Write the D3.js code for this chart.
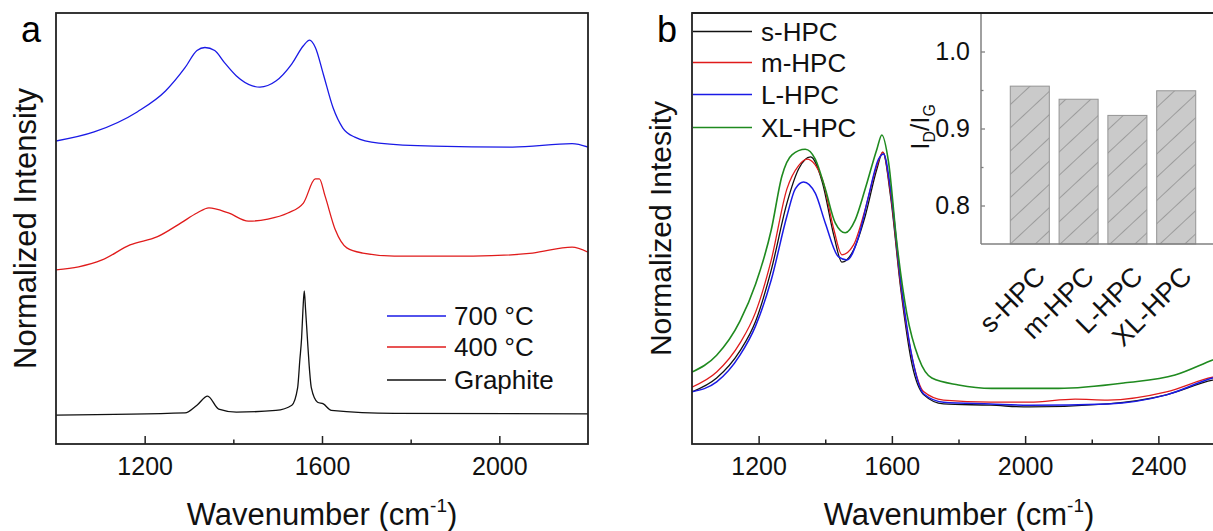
<!DOCTYPE html>
<html>
<head>
<meta charset="utf-8">
<script src="https://cdn.jsdelivr.net/npm/d3@7"></script>
<style>
  html, body { margin: 0; padding: 0; background: #fff; }
  svg { display: block; }
</style>
</head>
<body>
<svg id="chart" width="1213" height="531"></svg>
<script>
// ---------- DATA ----------
// Panel a: Raman spectra [wavenumber, normalized intensity (offset)]
const spec700 = [[1000,70.3],[1086,72.4],[1184,77.1],[1247,81.9],[1291,87.3],[1318,91.3],[1336,92.0],[1358,91.3],[1380,88.5],[1407,85.4],[1443,83.1],[1460,82.8],[1496,84.2],[1532,88.2],[1558,92.4],[1572,93.7],[1585,92.0],[1603,85.8],[1625,78.0],[1647,73.3],[1674,71.2],[1728,69.8],[1852,69.1],[2030,68.9],[2164,69.7],[2200,68.9]];
const spec400 = [[1000,40.4],[1051,41.1],[1104,42.7],[1167,46.2],[1229,48.1],[1282,51.3],[1318,53.6],[1345,54.8],[1389,53.6],[1434,51.7],[1478,52.2],[1523,53.6],[1558,55.9],[1585,61.5],[1594,61.5],[1607,57.5],[1630,49.7],[1656,45.5],[1692,44.3],[1763,43.6],[1941,43.6],[2075,44.3],[2164,45.7],[2200,44.5]];
const specGraphite = [[1000,6.7],[1291,7.2],[1318,9.0],[1342,11.1],[1367,8.1],[1407,7.4],[1496,7.8],[1532,9.0],[1545,13.0],[1550,19.5],[1554,24.6],[1557,31.1],[1560,35.5],[1563,31.1],[1567,24.6],[1571,18.3],[1576,13.0],[1590,9.7],[1603,9.3],[1621,7.8],[1763,7.1],[2200,7.0]];
const seriesA = ["700 °C", "400 °C", "Graphite"];

// Panel b: Raman spectra of HPC samples
const specS = [[1000,12.1],[1074,15.3],[1144,21.6],[1191,28.5],[1238,40.4],[1285,55.9],[1320,63.8],[1356,66.6],[1391,60.8],[1426,48.3],[1450,42.2],[1485,45.0],[1520,52.9],[1555,63.8],[1573,67.7],[1596,57.5],[1626,36.4],[1661,18.3],[1696,11.4],[1755,9.3],[1896,9.0],[2013,8.6],[2248,9.3],[2424,11.4],[2563,14.8],[2600,15.3]];
const specM = [[1000,13.2],[1074,16.7],[1144,23.4],[1191,30.6],[1238,42.7],[1285,59.2],[1320,64.6],[1345,66.1],[1391,61.5],[1426,49.7],[1450,43.9],[1485,46.2],[1520,54.5],[1555,64.6],[1573,67.7],[1596,58.2],[1626,37.1],[1661,20.0],[1696,12.1],[1755,10.2],[1896,9.7],[2013,9.7],[2150,10.4],[2248,10.2],[2424,12.1],[2563,15.5],[2600,16.0]];
const specL = [[1000,12.1],[1074,14.4],[1144,20.6],[1191,27.4],[1238,38.1],[1285,52.9],[1310,59.2],[1335,60.8],[1370,58.2],[1400,51.3],[1440,43.4],[1465,42.7],[1500,48.1],[1530,57.5],[1560,66.1],[1575,67.3],[1596,59.2],[1626,38.1],[1661,20.0],[1696,11.6],[1755,9.7],[1896,9.3],[2013,9.0],[2248,9.3],[2424,11.4],[2563,15.3],[2600,16.0]];
const specXL = [[1000,16.7],[1074,20.6],[1144,28.5],[1191,37.1],[1238,49.7],[1270,62.2],[1300,67.1],[1340,68.4],[1370,66.1],[1400,59.2],[1430,51.3],[1460,49.0],[1490,52.0],[1520,59.2],[1555,68.4],[1570,71.7],[1590,65.4],[1615,46.6],[1645,30.2],[1680,20.0],[1720,15.3],[1800,13.7],[1900,12.9],[2100,12.9],[2300,14.2],[2450,16.0],[2563,19.5],[2600,20.6]];
const seriesB = ["s-HPC", "m-HPC", "L-HPC", "XL-HPC"];

// Inset: ID/IG ratio
const insetCats = ["s-HPC", "m-HPC", "L-HPC", "XL-HPC"];
const insetVals = [0.955, 0.938, 0.917, 0.949];

// Tick values
const ticksAMajor = [1200, 1600, 2000];
const ticksAMinor = [1400, 1800];
const ticksBMajor = [1200, 1600, 2000, 2400];
const ticksBMinor = [1400, 1800, 2200, 2600];
const insetTicksMajor = [0.8, 0.9, 1.0];
const insetTicksMinor = [0.85, 0.95];

// ---------- STYLE ----------
const FONT = "'Liberation Sans', Arial, Helvetica, sans-serif";
const colorsA = ["#1a1ae6", "#e01b1b", "#111111"];
const colorsB = ["#111111", "#e01b1b", "#1a1ae6", "#1f8a1f"];
const AX = "#222";

const svg = d3.select("#chart").style("font-family", FONT);

const defs = svg.append("defs");
const pat = defs.append("pattern").attr("id", "hatch")
  .attr("patternUnits", "userSpaceOnUse").attr("width", 17).attr("height", 17)
  .attr("patternTransform", "rotate(47)");
pat.append("rect").attr("width", 17).attr("height", 17).attr("fill", "#cacaca");
pat.append("line").attr("x1", 0).attr("y1", 0).attr("x2", 0).attr("y2", 17)
  .attr("stroke", "#6f6f6f").attr("stroke-width", 1);

// ---------- helpers ----------
function drawPanel(opts) {
  const { x0, x1, y0, y1, domain, major, minor, data, colors, widths } = opts;
  const x = d3.scaleLinear().domain(domain).range([x0, x1]);
  const y = d3.scaleLinear().domain([0, 100]).range([y1, y0]);
  const g = svg.append("g");
  const clipId = "clip" + x0;
  defs.append("clipPath").attr("id", clipId).append("rect")
    .attr("x", x0).attr("y", y0).attr("width", x1 - x0).attr("height", y1 - y0);
  const line = d3.line().x(d => x(d[0])).y(d => y(d[1])).curve(d3.curveMonotoneX);
  data.forEach((s, i) => {
    g.append("path").datum(s).attr("d", line).attr("fill", "none")
      .attr("stroke", colors[i]).attr("stroke-width", widths[i])
      .attr("stroke-linejoin", "round").attr("clip-path", `url(#${clipId})`);
  });
  // axes
  const axMaj = g.append("g").attr("transform", `translate(0,${y1})`)
    .call(d3.axisBottom(x).tickValues(major).tickSize(-8).tickPadding(13).tickFormat(d3.format("d")));
  axMaj.select(".domain").remove();
  axMaj.selectAll("line").attr("stroke", AX).attr("stroke-width", 1.5);
  axMaj.selectAll("text").attr("font-size", 25).attr("fill", "#111").attr("font-family", FONT);
  const axMin = g.append("g").attr("transform", `translate(0,${y1})`)
    .call(d3.axisBottom(x).tickValues(minor).tickSize(-4.5).tickFormat(""));
  axMin.select(".domain").remove();
  axMin.selectAll("line").attr("stroke", AX).attr("stroke-width", 1.5);
  g.append("rect").attr("x", x0).attr("y", y0).attr("width", x1 - x0).attr("height", y1 - y0)
    .attr("fill", "none").attr("stroke", AX).attr("stroke-width", 1.8);
  return { x, y, g };
}

function axisTitle(cx) {
  const t = svg.append("text").attr("x", cx).attr("y", 525).attr("text-anchor", "middle")
    .attr("font-size", 31).attr("fill", "#111");
  t.append("tspan").text("Wavenumber (cm");
  t.append("tspan").attr("font-size", 19).attr("dy", -13).text("-1");
  t.append("tspan").attr("dy", 13).text(")");
}

// ---------- Panel a ----------
drawPanel({
  x0: 56, x1: 588, y0: 13, y1: 444, domain: [1000, 2200],
  major: ticksAMajor, minor: ticksAMinor,
  data: [spec700, spec400, specGraphite], colors: colorsA, widths: [1.3, 1.3, 1.3]
});
svg.append("text").attr("x", 21).attr("y", 42).attr("font-size", 36).text("a");
svg.append("text").attr("transform", "translate(36,228.5) rotate(-90)")
  .attr("text-anchor", "middle").attr("font-size", 31).attr("fill", "#111").text("Normalized Intensity");
axisTitle(322);

// legend a
const legA = svg.append("g");
seriesA.forEach((name, i) => {
  const yy = [316, 347, 380][i];
  legA.append("line").attr("x1", 387).attr("x2", 446).attr("y1", yy).attr("y2", yy)
    .attr("stroke", colorsA[i]).attr("stroke-width", 1.5);
  legA.append("text").attr("x", 454).attr("y", yy).attr("dy", "0.36em")
    .attr("font-size", 26).attr("fill", "#111").text(name);
});

// ---------- Panel b ----------
drawPanel({
  x0: 692, x1: 1225, y0: 13, y1: 444, domain: [1000, 2600],
  major: ticksBMajor, minor: ticksBMinor,
  data: [specS, specM, specL, specXL], colors: colorsB, widths: [1.3, 1.3, 1.5, 1.6]
});
svg.append("text").attr("x", 657).attr("y", 42).attr("font-size", 36).text("b");
svg.append("text").attr("transform", "translate(671,228.5) rotate(-90)")
  .attr("text-anchor", "middle").attr("font-size", 30).attr("fill", "#111").text("Normalized Intesity");
axisTitle(959);

// legend b
const legB = svg.append("g");
seriesB.forEach((name, i) => {
  const yy = [31.5, 62.5, 94.5, 127.5][i];
  legB.append("line").attr("x1", 693).attr("x2", 752).attr("y1", yy).attr("y2", yy)
    .attr("stroke", colorsB[i]).attr("stroke-width", 1.5);
  legB.append("text").attr("x", 761).attr("y", yy).attr("dy", "0.36em")
    .attr("font-size", 26).attr("fill", "#111").text(name);
});

// ---------- Inset ----------
const ix0 = 981, ix1 = 1225, iy0 = 13, iy1 = 244;
const ix = d3.scaleLinear().domain([0, insetCats.length + 1]).range([ix0, ix1]);
const iy = d3.scaleLinear().domain([0.75, 1.05]).range([iy1, iy0]);
const ins = svg.append("g");
ins.append("rect").attr("x", ix0).attr("y", iy0 + 1).attr("width", ix1 - ix0).attr("height", iy1 - iy0 - 1)
  .attr("fill", "#fff");
const bw = ix(0.8) - ix(0);
ins.selectAll("rect.bar").data(insetVals).join("rect").attr("class", "bar")
  .attr("x", (d, i) => ix(i + 1) - bw / 2).attr("width", bw)
  .attr("y", d => iy(d)).attr("height", d => iy1 - iy(d))
  .attr("fill", "url(#hatch)").attr("stroke", "#949494").attr("stroke-width", 1);
const iyAx = ins.append("g").attr("transform", `translate(${ix0},0)`)
  .call(d3.axisLeft(iy).tickValues(insetTicksMajor).tickSize(-4).tickPadding(11).tickFormat(d3.format(".1f")));
iyAx.select(".domain").remove();
iyAx.selectAll("line").attr("stroke", "#808080").attr("stroke-width", 1.3);
iyAx.selectAll("text").attr("font-size", 25).attr("fill", "#111").attr("font-family", FONT);
const iyMin = ins.append("g").attr("transform", `translate(${ix0},0)`)
  .call(d3.axisLeft(iy).tickValues(insetTicksMinor).tickSize(-2.5).tickFormat(""));
iyMin.select(".domain").remove();
iyMin.selectAll("line").attr("stroke", "#808080").attr("stroke-width", 1.3);
ins.append("line").attr("x1", ix0).attr("x2", ix0).attr("y1", iy0).attr("y2", iy1)
  .attr("stroke", "#808080").attr("stroke-width", 1.5);
ins.append("line").attr("x1", ix0).attr("x2", ix1).attr("y1", iy1).attr("y2", iy1)
  .attr("stroke", "#808080").attr("stroke-width", 1.5);
// redraw panel top border over inset
svg.append("line").attr("x1", 692).attr("x2", 1225).attr("y1", 13).attr("y2", 13)
  .attr("stroke", AX).attr("stroke-width", 1.8);
// rotated category labels
insetCats.forEach((c, i) => {
  ins.append("text").attr("transform", `translate(${ix(i + 1) + 17},${iy1 + 34}) rotate(-45)`)
    .attr("text-anchor", "end").attr("font-size", 27).attr("fill", "#111").text(c);
});
// inset y title I_D/I_G
const it = ins.append("text").attr("transform", `translate(929,127) rotate(-90)`)
  .attr("text-anchor", "middle").attr("font-size", 26).attr("fill", "#111");
it.append("tspan").text("I");
it.append("tspan").attr("font-size", 16).attr("dy", 6).text("D");
it.append("tspan").attr("dy", -6).text("/I");
it.append("tspan").attr("font-size", 16).attr("dy", 6).text("G");
</script>
</body>
</html>
